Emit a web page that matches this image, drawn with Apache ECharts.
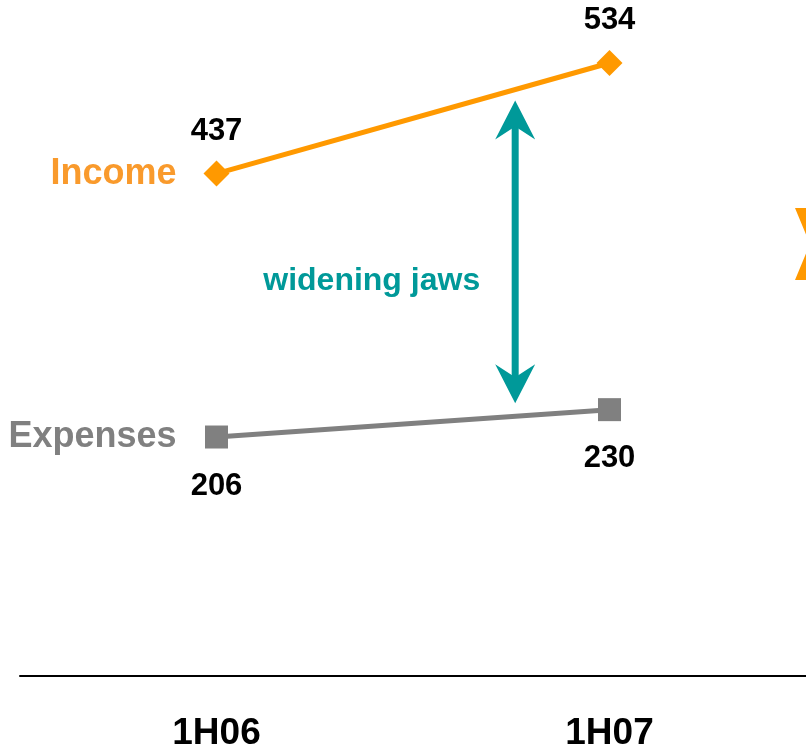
<!DOCTYPE html>
<html>
<head>
<meta charset="utf-8">
<script src="https://cdn.jsdelivr.net/npm/echarts@6/dist/echarts.min.js"></script>
<style>
  html, body { margin: 0; padding: 0; background: #fff; }
  #chart { width: 806px; height: 753px; }
</style>
</head>
<body>
<div id="chart"></div>
<script>
// Half-year periods and the two series
const periods = ['1H06', '1H07'];
const incomeValues = [437, 534];
const expenseValues = [206, 230];
const seriesNames = ['Income', 'Expenses'];
const annotationText = 'widening jaws';

const FONT = '"Liberation Sans", Arial, sans-serif';
const ORANGE = '#FF9900';
const ORANGE_TEXT = '#F99A2C';
const GREY = '#808080';
const TEAL = '#009999';

const chart = echarts.init(document.getElementById('chart'), null, { renderer: 'canvas' });

function nameMark(value, color) {
  return {
    symbol: 'circle',
    symbolSize: 0,
    silent: true,
    data: [{ coord: [0, value] }],
    label: {
      show: true,
      position: 'left',
      distance: 40,
      formatter: '{a}',
      color: color,
      fontFamily: FONT,
      fontWeight: 'bold',
      fontSize: 36
    }
  };
}

const valueLabel = (pos, dist) => ({
  show: true,
  position: pos,
  distance: dist,
  color: '#000',
  fontFamily: FONT,
  fontWeight: 'bold',
  fontSize: 31,
  lineHeight: 31
});

chart.setOption({
  animation: false,
  backgroundColor: '#fff',
  grid: { left: 20, right: 0, top: 10, bottom: 77, containLabel: false },
  xAxis: {
    type: 'category',
    data: periods,
    boundaryGap: true,
    axisLine: { show: true, onZero: false, lineStyle: { color: '#000', width: 2 } },
    axisTick: { show: false },
    axisLabel: {
      margin: 39,
      color: '#000',
      fontFamily: FONT,
      fontWeight: 'bold',
      fontSize: 37
    },
    splitLine: { show: false }
  },
  yAxis: {
    type: 'value',
    min: -3.6,
    max: 580.5,
    show: false,
    splitLine: { show: false }
  },
  series: [
    {
      name: seriesNames[0],
      type: 'line',
      data: incomeValues,
      symbol: 'diamond',
      symbolSize: 26,
      itemStyle: { color: ORANGE },
      lineStyle: { color: ORANGE, width: 5 },
      label: valueLabel('top', 14),
      markPoint: nameMark(incomeValues[0], ORANGE_TEXT)
    },
    {
      name: seriesNames[1],
      type: 'line',
      data: expenseValues,
      symbol: 'rect',
      symbolSize: 23,
      itemStyle: { color: GREY },
      lineStyle: { color: GREY, width: 5 },
      label: valueLabel('bottom', 22),
      markPoint: nameMark(expenseValues[0], GREY)
    }
  ]
});

// Double-headed arrow between the two lines, placed 76% of the way to the second period
const i0 = chart.convertToPixel({ seriesIndex: 0 }, [0, incomeValues[0]]);
const i1 = chart.convertToPixel({ seriesIndex: 0 }, [1, incomeValues[1]]);
const e0 = chart.convertToPixel({ seriesIndex: 1 }, [0, expenseValues[0]]);
const e1 = chart.convertToPixel({ seriesIndex: 1 }, [1, expenseValues[1]]);
const t = 0.76;
const ax = i0[0] + t * (i1[0] - i0[0]);
const topY = i0[1] + t * (i1[1] - i0[1]) + 11;
const botY = e0[1] + t * (e1[1] - e0[1]) - 13;
const headH = 39, headW = 20, notch = 26;

chart.setOption({
  graphic: [
    {
      type: 'rect',
      shape: { x: ax - 3.5, y: topY + notch - 2, width: 7, height: (botY - topY) - 2 * notch + 4 },
      style: { fill: TEAL },
      silent: true
    },
    {
      type: 'polygon',
      shape: { points: [[ax, topY], [ax + headW, topY + headH], [ax, topY + notch], [ax - headW, topY + headH]] },
      style: { fill: TEAL },
      silent: true
    },
    {
      type: 'polygon',
      shape: { points: [[ax, botY], [ax + headW, botY - headH], [ax, botY - notch], [ax - headW, botY - headH]] },
      style: { fill: TEAL },
      silent: true
    },
    {
      type: 'text',
      x: ax - 35,
      y: (topY + botY) / 2 + 29,
      style: {
        text: annotationText,
        fill: TEAL,
        font: 'bold 32px ' + FONT,
        align: 'right',
        verticalAlign: 'middle'
      },
      silent: true
    },
    {
      // jaws marker at the right edge
      type: 'polygon',
      shape: { points: [[795, 208], [825, 208], [810, 244], [825, 280], [795, 280], [810, 244]] },
      style: { fill: ORANGE },
      silent: true
    }
  ]
});
</script>
</body>
</html>
